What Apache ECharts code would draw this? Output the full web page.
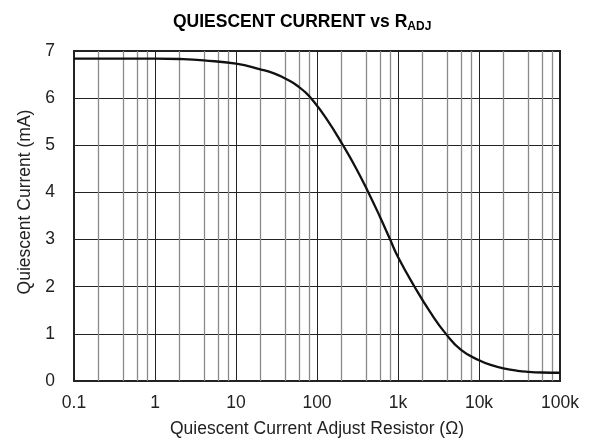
<!DOCTYPE html>
<html>
<head>
<meta charset="utf-8">
<script src="https://cdn.jsdelivr.net/npm/echarts@6/dist/echarts.min.js"></script>
<style>
  html, body { margin: 0; padding: 0; background: #fff; }
  #chart { width: 589px; height: 444px; }
</style>
</head>
<body>
<div id="chart"></div>
<script>
// resistor values (ohm) and quiescent current (mA)
const rAdj = [0.1, 0.3, 1, 2, 4, 10, 20, 30, 40, 50, 60, 70, 87, 130, 211, 300, 431, 600, 800,
  1000, 1600, 2500, 3900, 6000, 10000, 15000, 20000, 30000, 40000, 60000, 100000];
const iq = [6.84, 6.84, 6.84, 6.83, 6.80, 6.73, 6.61, 6.52, 6.42, 6.33, 6.235, 6.14, 5.97,
  5.57, 4.99, 4.53, 4.00, 3.48, 3.00, 2.63, 2.00, 1.46, 1.00, 0.66, 0.44, 0.325, 0.27,
  0.217, 0.195, 0.18, 0.175];

// x tick labels, one per decade from 0.1 to 100k
const xLabels = ['0.1', '1', '10', '100', '1k', '10k', '100k'];
// minor grid lines at 2, 4, 6, 8 of each decade
const minorGrid = [0.2, 0.4, 0.6, 0.8, 2, 4, 6, 8, 20, 40, 60, 80, 200, 400, 600, 800,
  2000, 4000, 6000, 8000, 20000, 40000, 60000, 80000];

const font = 'Liberation Sans, Arial, sans-serif';
const chart = echarts.init(document.getElementById('chart'));

chart.setOption({
  animation: false,
  title: {
    text: '{t|QUIESCENT CURRENT vs R}{s|ADJ}',
    left: 168,
    top: 6,
    textStyle: {
      rich: {
        t: { fontFamily: font, fontSize: 17.5, fontWeight: 'bold', color: '#000', lineHeight: 22 },
        s: { fontFamily: font, fontSize: 12, fontWeight: 'bold', color: '#000', lineHeight: 9, verticalAlign: 'bottom' }
      }
    }
  },
  grid: {
    left: 74, right: 29, top: 51, bottom: 63,
    show: true,
    borderColor: '#222',
    borderWidth: 2
  },
  xAxis: {
    type: 'log',
    logBase: 10,
    min: 0.1,
    max: 100000,
    name: 'Quiescent Current Adjust Resistor (\u03A9)',
    nameLocation: 'middle',
    nameGap: 39,
    nameTextStyle: { fontFamily: font, fontSize: 17.5, color: '#222' },
    axisLine: { show: false },
    axisTick: { show: false },
    axisLabel: {
      margin: 13,
      fontFamily: font,
      fontSize: 17.5,
      color: '#222',
      formatter: v => xLabels[Math.round(Math.log10(v)) + 1]
    },
    splitLine: { show: true, lineStyle: { color: '#222', width: 1 } }
  },
  yAxis: {
    type: 'value',
    min: 0,
    max: 7,
    interval: 1,
    name: 'Quiescent Current (mA)',
    nameLocation: 'middle',
    nameGap: 40,
    nameTextStyle: { fontFamily: font, fontSize: 17.5, color: '#222', padding: [0, 0, 0, 28] },
    axisLine: { show: false },
    axisTick: { show: false },
    axisLabel: { margin: 19, fontFamily: font, fontSize: 17.5, color: '#222' },
    splitLine: { show: true, lineStyle: { color: '#222', width: 1 } }
  },
  series: [
    {
      type: 'line',
      data: [],
      z: 1,
      silent: true,
      markLine: {
        silent: true,
        symbol: 'none',
        label: { show: false },
        lineStyle: { color: '#8a8a8a', width: 1.3, type: 'solid' },
        data: minorGrid.map(v => ({ xAxis: v }))
      }
    },
    {
      type: 'line',
      z: 5,
      data: rAdj.map((r, i) => [r, iq[i]]),
      smooth: 0.5,
      showSymbol: false,
      lineStyle: { color: '#111', width: 2.3 }
    }
  ]
});
</script>
</body>
</html>
